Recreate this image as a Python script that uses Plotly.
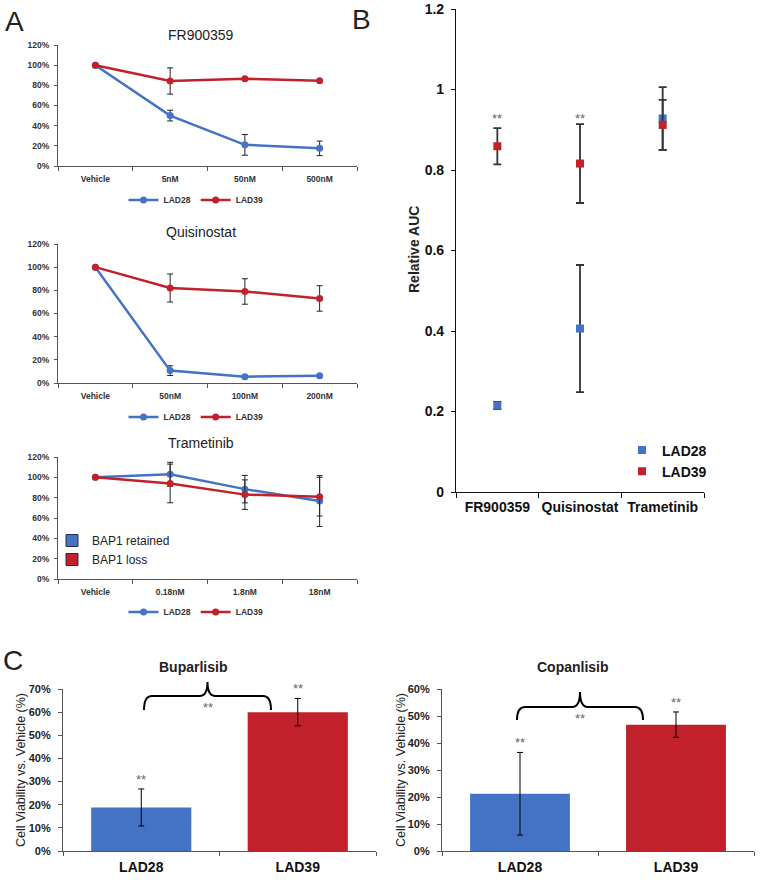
import plotly.graph_objects as go

W, H = 766, 882
BLUE = "#4472C4"
RED = "#C0212B"
FONT = "Liberation Sans, Arial, sans-serif"

# ---------------- Panel A data ----------------
fr_doses = ["Vehicle", "5nM", "50nM", "500nM"]
fr_lad28 = [1.00, 0.50, 0.21, 0.175]
fr_lad28_err = [0, 0.053, 0.103, 0.072]
fr_lad39 = [1.00, 0.843, 0.866, 0.846]
fr_lad39_err = [0, 0.13, 0, 0]

qu_doses = ["Vehicle", "50nM", "100nM", "200nM"]
qu_lad28 = [1.00, 0.107, 0.055, 0.063]
qu_lad28_err = [0, 0.042, 0, 0]
qu_lad39 = [1.00, 0.82, 0.79, 0.73]
qu_lad39_err = [0, 0.121, 0.11, 0.11]

tr_doses = ["Vehicle", "0.18nM", "1.8nM", "18nM"]
tr_lad28 = [1.00, 1.03, 0.884, 0.767]
tr_lad28_err = [0, 0.118, 0.135, 0.25]
tr_lad39 = [1.00, 0.94, 0.83, 0.81]
tr_lad39_err = [0, 0.19, 0.145, 0.19]

# ---------------- Panel B data ----------------
auc_drugs = ["FR900359", "Quisinostat", "Trametinib"]
auc_lad28 = [0.215, 0.406, 0.928]
auc_lad28_err = [0.009, 0.158, 0.078]
auc_lad39 = [0.859, 0.816, 0.912]
auc_lad39_err = [0.045, 0.098, 0.062]
auc_sig = ["**", "**", ""]
auc_sig_level = 0.935

# ---------------- Panel C data ----------------
cells = ["LAD28", "LAD39"]
bup_vals = [0.188, 0.600]
bup_err = [0.080, 0.059]
cop_vals = [0.212, 0.468]
cop_err = [0.153, 0.047]

line_names = ["LAD28", "LAD39"]
bap1_labels = ["BAP1 retained", "BAP1 loss"]


def px(x):
    return x / W


def py(y):
    return 1 - y / H


def dom_x(a, b):
    return [a / W, b / W]


def dom_y(top, bottom):
    return [1 - bottom / H, 1 - top / H]


fig = go.Figure()

panels_a = [
    (fr_doses, fr_lad28, fr_lad28_err, fr_lad39, fr_lad39_err),
    (qu_doses, qu_lad28, qu_lad28_err, qu_lad39, qu_lad39_err),
    (tr_doses, tr_lad28, tr_lad28_err, tr_lad39, tr_lad39_err),
]
legend_ids = ["legend", "legend2", "legend3"]

for i, (doses, l28, e28, l39, e39) in enumerate(panels_a):
    ax = "" if i == 0 else str(i + 1)
    for name, vals, errs, col in [(line_names[0], l28, e28, BLUE), (line_names[1], l39, e39, RED)]:
        fig.add_trace(go.Scatter(
            x=doses, y=vals, name=name, mode="lines+markers",
            line=dict(color=col, width=2.5), marker=dict(color=col, size=7),
            error_y=dict(type="data", array=errs, color="#222222", thickness=1, width=3),
            xaxis="x" + ax, yaxis="y" + ax, legend=legend_ids[i], showlegend=True,
        ))

# BAP1 legend (panel A, Trametinib)
for lab, col in zip(bap1_labels, [BLUE, RED]):
    fig.add_trace(go.Bar(
        x=[tr_doses[0]], y=[None], name=lab,
        marker=dict(color=col, line=dict(color="#1f2f4f", width=1)),
        xaxis="x3", yaxis="y3", legend="legend5", showlegend=True, hoverinfo="skip",
    ))

# Panel B
for name, vals, errs, col in [(line_names[0], auc_lad28, auc_lad28_err, BLUE),
                              (line_names[1], auc_lad39, auc_lad39_err, RED)]:
    fig.add_trace(go.Scatter(
        x=auc_drugs, y=vals, name=name, mode="markers",
        marker=dict(color=col, size=8, symbol="square"),
        error_y=dict(type="data", array=errs, color="#333333", thickness=1.8, width=4),
        xaxis="x4", yaxis="y4", legend="legend4", showlegend=True,
    ))

# Panel C
fig.add_trace(go.Bar(
    x=cells, y=bup_vals, marker=dict(color=[BLUE, RED], line=dict(width=0)),
    error_y=dict(type="data", array=bup_err, color="black", thickness=1, width=3),
    xaxis="x5", yaxis="y5", showlegend=False,
))
fig.add_trace(go.Bar(
    x=cells, y=cop_vals, marker=dict(color=[BLUE, RED], line=dict(width=0)),
    error_y=dict(type="data", array=cop_err, color="black", thickness=1, width=3),
    xaxis="x6", yaxis="y6", showlegend=False,
))

layout = dict(
    width=W, height=H, autosize=False,
    margin=dict(l=0, r=0, t=0, b=0, autoexpand=False),
    paper_bgcolor="white", plot_bgcolor="white",
    font=dict(family=FONT, color="#222222"),
    bargap=0.36, showlegend=True,
)

a_tickfont = dict(family=FONT, size=8.5, color="#333333", weight="bold")
a_x = [(58, 357)] * 3
a_y = [(45, 166), (244, 383), (457, 579)]
for i in range(3):
    ax = "" if i == 0 else str(i + 1)
    layout["xaxis" + ax] = dict(
        domain=dom_x(*a_x[i]), anchor="y" + ax, type="category", range=[-0.5, 3.5],
        showline=True, linecolor="#555555", linewidth=1, ticks="outside", tickson="boundaries",
        ticklen=4, tickcolor="#555555", tickfont=a_tickfont, showgrid=False, zeroline=False,
        automargin=False, tickangle=0, ticklabelstandoff=5,
    )
    layout["yaxis" + ax] = dict(
        domain=dom_y(*a_y[i]), anchor="x" + ax, range=[0, 1.2], dtick=0.2, tickformat=".0%",
        showline=True, linecolor="#555555", linewidth=1, ticks="outside", ticklen=3,
        tickcolor="#555555", tickfont=a_tickfont, showgrid=False, zeroline=False,
        automargin=False, ticklabelstandoff=3,
    )

legend_a_y = [200, 417, 612]
for i, lid in enumerate(legend_ids):
    layout[lid] = dict(
        orientation="h", x=px(196), y=py(legend_a_y[i]), xanchor="center", yanchor="middle",
        font=dict(family=FONT, size=8.5, color="#333333", weight="bold"),
        bgcolor="rgba(0,0,0,0)", itemwidth=30, tracegroupgap=0, visible=True,
    )

layout["legend5"] = dict(
    orientation="v", x=px(52), y=py(550), xanchor="left", yanchor="middle",
    font=dict(family=FONT, size=12, color="#222222"), bgcolor="rgba(0,0,0,0)",
    itemwidth=30, tracegroupgap=0, visible=True,
)

# Panel B axes
b_tickfont = dict(family=FONT, size=14, color="#111111", weight="bold")
layout["xaxis4"] = dict(
    domain=dom_x(456, 704), anchor="y4", type="category", range=[-0.5, 2.5],
    showline=True, linecolor="#111111", linewidth=1.2, ticks="outside", tickson="boundaries",
    ticklen=5, tickcolor="#111111", tickfont=b_tickfont, showgrid=False, zeroline=False,
    automargin=False, tickangle=0, ticklabelstandoff=2,
)
layout["yaxis4"] = dict(
    domain=dom_y(9, 492), anchor="x4", range=[0, 1.2], dtick=0.2,
    showline=True, linecolor="#111111", linewidth=1.2, ticks="outside", ticklen=4,
    tickcolor="#111111", tickfont=b_tickfont, showgrid=False, zeroline=False,
    automargin=False, ticklabelstandoff=4,
)
layout["legend4"] = dict(
    orientation="v", x=px(622), y=py(461), xanchor="left", yanchor="middle",
    font=dict(family=FONT, size=14, color="#111111", weight="bold"), bgcolor="rgba(0,0,0,0)",
    itemwidth=30, tracegroupgap=0, visible=True,
)

# Panel C axes
c_tickfont = dict(family=FONT, size=11, color="#222222", weight="bold")
c_xfont = dict(family=FONT, size=14, color="#111111", weight="bold")
for ax, xd, ymax in [("5", (63, 376), 0.7), ("6", (442, 754), 0.6)]:
    layout["xaxis" + ax] = dict(
        domain=dom_x(*xd), anchor="y" + ax, type="category", range=[-0.5, 1.5],
        showline=True, linecolor="#555555", linewidth=1.2, ticks="outside", tickson="boundaries",
        ticklen=4, tickcolor="#555555", tickfont=c_xfont, showgrid=False, zeroline=False,
        automargin=False, tickangle=0, ticklabelstandoff=3,
    )
    layout["yaxis" + ax] = dict(
        domain=dom_y(689, 851), anchor="x" + ax, range=[0, ymax], dtick=0.1, tickformat=".0%",
        showline=True, linecolor="#555555", linewidth=1.2, ticks="outside", ticklen=4,
        tickcolor="#555555", tickfont=c_tickfont, showgrid=False, zeroline=False,
        automargin=False, ticklabelstandoff=5,
    )

annotations = []


def ann(text, x, y, size, bold=False, color="#222222", angle=0, xanchor="center"):
    annotations.append(dict(
        text=text, x=px(x), y=py(y), xref="paper", yref="paper", showarrow=False,
        xanchor=xanchor, yanchor="middle", textangle=angle,
        font=dict(family=FONT, size=size, color=color, weight="bold" if bold else "normal"),
    ))


# panel letters
ann("A", 3, 21, 28, xanchor="left")
ann("B", 350, 20, 28, xanchor="left")
ann("C", 1, 660, 28, xanchor="left")

# A titles
ann("FR900359", 201, 35, 14)
ann("Quisinostat", 201, 232, 14)
ann("Trametinib", 201, 443, 14)

# B axis title and significance
ann("Relative AUC", 414, 250, 14, bold=True, angle=-90)
for drug, sig in zip(auc_drugs, auc_sig):
    if sig:
        annotations.append(dict(
            text=sig, x=drug, y=auc_sig_level, xref="x4", yref="y4", showarrow=False,
            yanchor="middle", yshift=-3, font=dict(family=FONT, size=13, color="#666666"),
        ))

# C titles and axis titles
ann("Buparlisib", 193, 667, 14, bold=True)
ann("Copanlisib", 573, 667, 14, bold=True)
ann("Cell Viability vs. Vehicle (%)", 21, 770, 12.5, angle=-90)
ann("Cell Viability vs. Vehicle (%)", 401, 770, 12.5, angle=-90)

for ax, vals, errs in [("5", bup_vals, bup_err), ("6", cop_vals, cop_err)]:
    for c, v, e in zip(cells, vals, errs):
        annotations.append(dict(
            text="**", x=c, y=v + e, xref="x" + ax, yref="y" + ax, showarrow=False,
            yanchor="bottom", yshift=0, font=dict(family=FONT, size=13, color="#666666"),
        ))

ann("**", 208, 707, 13, color="#666666")
ann("**", 580, 718, 13, color="#666666")


def brace_path(x0, x1, yend, yh, ypeak, r=8):
    xc = (x0 + x1) / 2
    pts = [
        ("M", [(x0, yend)]),
        ("Q", [(x0, yh), (x0 + r, yh)]),
        ("L", [(xc - r, yh)]),
        ("Q", [(xc, yh), (xc, ypeak)]),
        ("Q", [(xc, yh), (xc + r, yh)]),
        ("L", [(x1 - r, yh)]),
        ("Q", [(x1, yh), (x1, yend)]),
    ]
    s = ""
    for cmd, ps in pts:
        s += cmd + " " + " ".join(f"{px(a):.5f},{py(b):.5f}" for a, b in ps) + " "
    return s.strip()


shapes = [
    dict(type="path", xref="paper", yref="paper", path=brace_path(144, 271, 710, 696, 682),
         line=dict(color="black", width=2)),
    dict(type="path", xref="paper", yref="paper", path=brace_path(517, 643, 720, 707, 692),
         line=dict(color="black", width=2)),
]

layout["annotations"] = annotations
layout["shapes"] = shapes
fig.update_layout(**layout)

fig.write_html(
    "out.html",
    config={"displayModeBar": False},
    post_script="document.body.style.margin='0';document.body.style.overflow='hidden';",
)
